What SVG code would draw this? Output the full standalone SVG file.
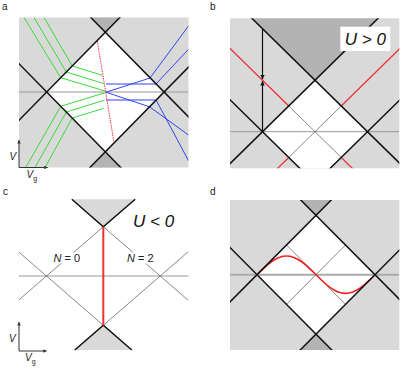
<svg xmlns="http://www.w3.org/2000/svg" width="412" height="372" viewBox="0 0 412 372">
<style>
.bg{fill:#d9d9d9}
.dk{fill:#b3b3b3}
.wh{fill:#fff}
.bl{stroke:#111;stroke-width:1.5;fill:none}
.hz{stroke:#999;stroke-width:1;fill:none}
.thin{stroke:#555;stroke-width:0.7;fill:none}
.gr{stroke:#3ad83a;stroke-width:1;fill:none}
.bu{stroke:#3344ee;stroke-width:1;fill:none}
.rd{stroke:#ee2b2b;stroke-width:1.2;fill:none}
.ax{stroke:#333;stroke-width:1;fill:none}
.lbl{font-family:"Liberation Sans",Arial,sans-serif;font-size:10px;fill:#222}
.big{font-family:"Liberation Sans",Arial,sans-serif;font-size:17px;font-style:italic;fill:#111}
.nl{font-family:"Liberation Sans",Arial,sans-serif;font-size:11px;fill:#222}
.it{font-style:italic}
</style>
<defs>
<clipPath id="ca"><rect x="19" y="17.5" width="169.5" height="150"/></clipPath>
<clipPath id="cb"><rect x="230" y="18.3" width="169.3" height="150"/></clipPath>
<clipPath id="cd"><rect x="230" y="200" width="169.3" height="150"/></clipPath>
<clipPath id="cc"><rect x="19" y="190" width="170" height="160"/></clipPath>
<marker id="ar" viewBox="0 0 10 10" refX="10" refY="5" markerWidth="5" markerHeight="4.5" markerUnits="userSpaceOnUse" orient="auto"><path d="M0,0 L10,5 L0,10 Z" fill="#111"/></marker>
<marker id="axa" viewBox="0 0 10 10" refX="10" refY="5" markerWidth="4" markerHeight="3.5" markerUnits="userSpaceOnUse" orient="auto"><path d="M0,0 L10,5 L0,10 Z" fill="#333"/></marker>
</defs>

<!-- panel labels -->
<text class="lbl" x="2" y="9.5">a</text>
<text class="lbl" x="210" y="9.5">b</text>
<text class="lbl" x="3" y="194.5">c</text>
<text class="lbl" x="210" y="195">d</text>

<!-- Panel a -->
<g id="panel-a">
<rect class="bg" x="19" y="17.5" width="169.5" height="150"/>
<g clip-path="url(#ca)">
<polygon class="wh" points="105.3,32.3 164,92 105.3,151.8 46.6,92"/>
<polygon class="dk" points="75.3,1.7 135.3,1.7 105.3,32.3"/>
<polygon class="dk" points="75.3,182.4 135.3,182.4 105.3,151.8"/>
<line class="hz" x1="19" y1="92" x2="188.5" y2="92" stroke="#888"/>
<g id="green">
<polyline class="gr" points="24,17.5 60.7,77.7 105,91"/>
<polyline class="gr" points="34,17.5 66.3,72 104,83.7"/>
<polyline class="gr" points="44,17.5 72.3,66 102.3,75.3"/>
<polyline class="gr" points="25.7,167.5 60.7,106.3 105.3,92.6"/>
<polyline class="gr" points="35,167.5 66.3,112 104.5,100.2"/>
<polyline class="gr" points="45,167.5 72.3,118 103.5,108.3"/>
</g>
<g id="blue">
<polyline class="bu" points="188.5,26 150,78 106,92.2"/>
<polyline class="bu" points="188.5,49.3 156,84"/>
<line class="bu" x1="106" y1="84" x2="156" y2="84" stroke-width="2"/>
<polyline class="bu" points="106,92.2 149.5,106.8 188.5,135"/>
<line class="bu" x1="106" y1="100" x2="156.1" y2="100" stroke-width="2"/>
<polyline class="bu" points="156.1,100 188.5,160.7"/>
</g>
<line x1="97.3" y1="41" x2="114" y2="142.7" stroke="#ee3344" stroke-width="1" stroke-dasharray="1.5 1"/>
<g id="a-edges">
<line class="bl" x1="75.3" y1="1.7" x2="204" y2="132.7"/>
<line class="bl" x1="135.3" y1="1.7" x2="6.6" y2="132.9"/>
<line class="bl" x1="75.3" y1="182.4" x2="204" y2="51.3"/>
<line class="bl" x1="135.3" y1="182.4" x2="6.6" y2="51.1"/>
</g>
</g>
<g id="axes-a">
<line class="ax" x1="19" y1="167.5" x2="19" y2="140" marker-end="url(#axa)"/>
<line class="ax" x1="19" y1="167.5" x2="47.7" y2="167.5" marker-end="url(#axa)"/>
<text class="lbl it" x="9.5" y="160">V</text>
<text class="lbl it" x="26.5" y="177.5">V<tspan font-size="7" dy="3" font-style="normal">g</tspan></text>
</g>
</g>

<!-- Panel b -->
<g id="panel-b">
<rect class="bg" x="230" y="18.3" width="169.3" height="150"/>
<g clip-path="url(#cb)">
<polygon class="wh" points="262.5,131.7 315,80.2 367.5,131.7 330.15,168.3 299.85,168.3"/>
<polygon class="dk" points="251.9,18.3 378.1,18.3 315,80.2"/>
<line class="hz" x1="230" y1="131.7" x2="399.3" y2="131.7"/>
<g id="b-red">
<line class="rd" x1="208.75" y1="27.47" x2="288.75" y2="105.95"/>
<line class="thin" x1="288.75" y1="105.95" x2="341.25" y2="157.45" stroke="#888"/>
<line class="rd" x1="341.25" y1="157.45" x2="361.25" y2="177.07"/>
<line class="rd" x1="341.25" y1="105.95" x2="421.25" y2="27.47"/>
<line class="thin" x1="341.25" y1="105.95" x2="288.75" y2="157.45" stroke="#888"/>
<line class="rd" x1="288.75" y1="157.45" x2="268.75" y2="177.07"/>
</g>
<g id="b-edges">
<line class="bl" x1="202.5" y1="190.6" x2="415" y2="-17.9"/>
<line class="bl" x1="215" y1="-17.9" x2="427.5" y2="190.6"/>
<line class="bl" x1="202.5" y1="72.8" x2="342.5" y2="210.2"/>
<line class="bl" x1="427.5" y1="72.8" x2="287.5" y2="210.2"/>
</g>
</g>
<g id="b-arrows">
<line x1="262.5" y1="28.7" x2="262.5" y2="79.3" stroke="#111" stroke-width="1.2" marker-end="url(#ar)"/>
<line x1="262.5" y1="131.7" x2="262.5" y2="81.1" stroke="#111" stroke-width="1.2" marker-end="url(#ar)"/>
</g>
<g id="b-label">
<rect x="340.3" y="26.7" width="50" height="24.3" fill="#fff"/>
<text class="big" x="365.3" y="44.8" text-anchor="middle">U &gt; 0</text>
</g>
</g>

<!-- Panel c -->
<g id="panel-c">
<g clip-path="url(#cc)">
<line class="hz" x1="19" y1="276" x2="188.3" y2="276"/>
<g id="c-lines">
<line class="thin" x1="103.3" y1="226.7" x2="19" y2="299.8"/>
<line class="thin" x1="103.3" y1="226.7" x2="188" y2="300.1"/>
<line class="thin" x1="103.3" y1="325.3" x2="19" y2="252.2"/>
<line class="thin" x1="103.3" y1="325.3" x2="188" y2="251.9"/>
</g>
</g>
<g id="c-top">
<polygon class="bg" points="71.8,199.3 135.2,199.3 103.3,226.7"/>
<polyline class="bl" points="71.8,199.3 103.3,226.7 135.2,199.3"/>
</g>
<g id="c-bottom">
<polygon class="bg" points="74.8,350 131.8,350 103.3,325.3"/>
<polyline class="bl" points="74.8,350 103.3,325.3 131.8,350"/>
</g>
<line x1="103.3" y1="226.7" x2="103.3" y2="325.3" stroke="#ee3333" stroke-width="2"/>
<g id="c-n0">
<rect x="52.5" y="252.5" width="28.5" height="11" fill="#fff"/>
<text class="nl" x="53.5" y="262"><tspan class="it">N</tspan> = 0</text>
</g>
<g id="c-n2">
<rect x="126" y="252.5" width="28.5" height="11" fill="#fff"/>
<text class="nl" x="127" y="262"><tspan class="it">N</tspan> = 2</text>
</g>
<text class="big" x="133" y="227">U &lt; 0</text>
<g id="axes-c">
<line class="ax" x1="19" y1="351" x2="19" y2="322" marker-end="url(#axa)"/>
<line class="ax" x1="19" y1="351" x2="46.7" y2="351" marker-end="url(#axa)"/>
<text class="lbl it" x="9" y="342">V</text>
<text class="lbl it" x="25" y="361">V<tspan font-size="7" dy="3" font-style="normal">g</tspan></text>
</g>
</g>

<!-- Panel d -->
<g id="panel-d">
<rect class="bg" x="230" y="200" width="169.3" height="150"/>
<g clip-path="url(#cd)">
<polygon class="wh" points="316,215.3 375,274.7 316,334.1 257,274.7"/>
<polygon class="dk" points="300.7,200 331.3,200 316,215.3"/>
<polygon class="dk" points="300.1,350 331.9,350 316,334.1"/>
<line x1="230" y1="274.7" x2="399.3" y2="274.7" stroke="#aaa" stroke-width="2"/>
<line class="thin" x1="286.5" y1="245" x2="345.5" y2="304.4"/>
<line class="thin" x1="345.5" y1="245" x2="286.5" y2="304.4"/>
<path d="M257,274.7 C266.62,265.12 275.82,256 286.5,256 C297.18,256 306.38,265.12 316,274.7 C325.62,284.28 334.82,293.4 345.5,293.4 C356.18,293.4 365.38,284.28 375,274.7" stroke="#ee2222" stroke-width="1.6" fill="none"/>
<g id="d-edges">
<line class="bl" x1="276" y1="175.1" x2="416" y2="316"/>
<line class="bl" x1="356" y1="175.1" x2="216" y2="316"/>
<line class="bl" x1="276" y1="374.4" x2="416" y2="233.4"/>
<line class="bl" x1="356" y1="374.4" x2="216" y2="233.4"/>
</g>
</g>
</g>
</svg>
